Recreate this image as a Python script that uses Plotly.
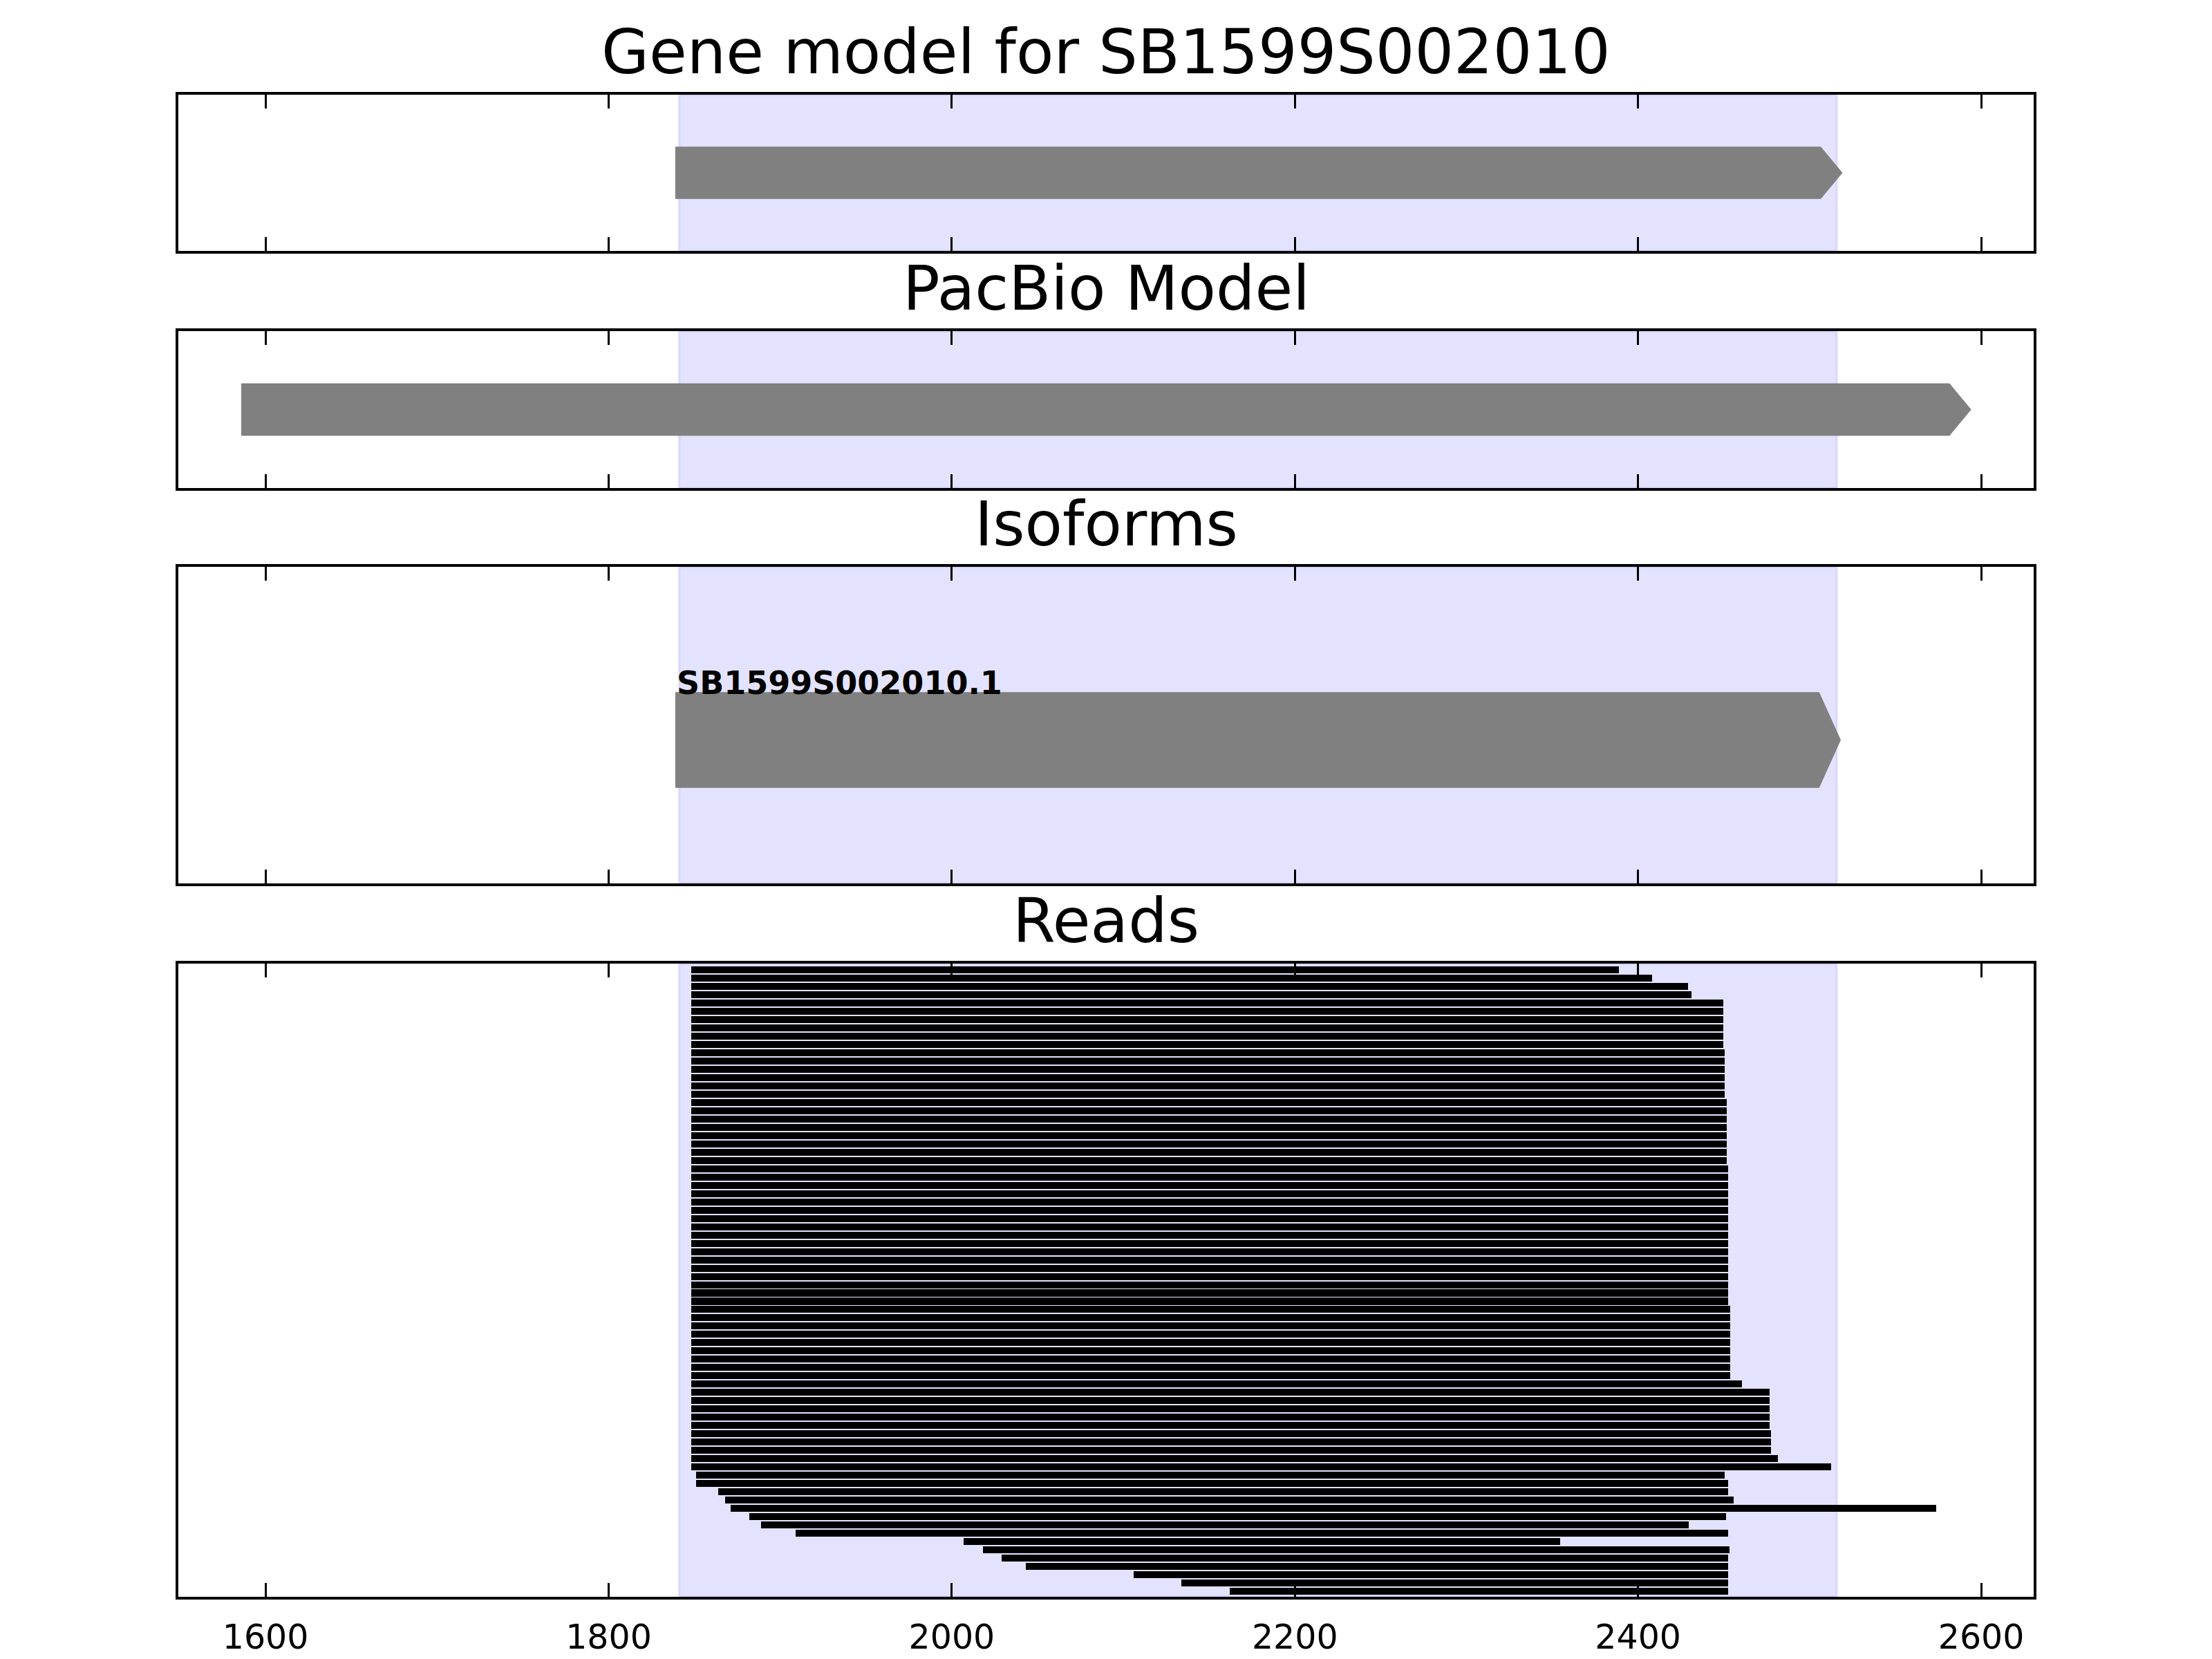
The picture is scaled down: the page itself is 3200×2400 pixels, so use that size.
import plotly.graph_objects as go

# ---------------- data ----------------
panel_titles = ["Gene model for SB1599S002010", "PacBio Model", "Isoforms", "Reads"]
isoform_label = "SB1599S002010.1"

shade_region = [1841, 2516]          # highlighted gene region
gene_model = [1839, 2519]            # start, arrow tip
pacbio_model = [1586, 2594]
isoform_model = [1839, 2518]
arrow_head = 12.5                    # head length (bp)

x_ticks = [1600, 1800, 2000, 2200, 2400, 2600]
x_tick_labels = ["1600", "1800", "2000", "2200", "2400", "2600"]

read_starts = [
    1848, 1848, 1848, 1848, 1848, 1848, 1848, 1848, 1848, 1848,
    1848, 1848, 1848, 1848, 1848, 1848, 1848, 1848, 1848, 1848,
    1848, 1848, 1848, 1848, 1848, 1848, 1848, 1848, 1848, 1848,
    1848, 1848, 1848, 1848, 1848, 1848, 1848, 1848, 1848, 1848,
    1848, 1848, 1848, 1848, 1848, 1848, 1848, 1848, 1848, 1848,
    1848, 1848, 1848, 1848, 1848, 1848, 1848, 1848, 1848, 1848,
    1848, 1851, 1851, 1864, 1868, 1871, 1882, 1889, 1909, 2007,
    2018, 2029, 2043, 2106, 2134, 2162,
]
read_ends = [
    2389, 2408, 2429, 2431, 2449.5, 2449.5, 2449.5, 2449.5, 2449.5, 2449.5,
    2450.3, 2450.3, 2450.3, 2450.3, 2450.3, 2450.3, 2451.6, 2451.6, 2451.6, 2451.6,
    2451.6, 2451.6, 2451.6, 2451.6, 2452.4, 2452.4, 2452.4, 2452.4, 2452.4, 2452.4,
    2452.4, 2452.4, 2452.4, 2452.4, 2452.4, 2452.4, 2452.4, 2452.4, 2452.4, 2452.4,
    2452.4, 2453.6, 2453.6, 2453.6, 2453.6, 2453.6, 2453.6, 2453.6, 2453.6, 2453.6,
    2460.5, 2476.6, 2476.6, 2476.6, 2476.6, 2476.6, 2477.4, 2477.4, 2477.4, 2481.4,
    2512.4, 2450.4, 2452.4, 2452.4, 2455.6, 2573.6, 2451.3, 2429.4, 2452.4, 2354.5,
    2453.5, 2452.4, 2452.4, 2452.4, 2452.4, 2452.4,
]

# ---------------- layout constants ----------------
W, H = 3200, 2400
OFF = 8                      # page body margin in the browser
# plot area in page pixels (inner edges of the frame)
LEFT, RIGHT, TOP, BOTTOM = 258, 2942, 137, 2310
ML, MR = LEFT - OFF, W - (RIGHT - OFF)
MT, MB = TOP - OFF, H - (BOTTOM - OFF)
plot_h = BOTTOM - TOP
XRANGE = [1549.2, 2630.6]
# panel (top_px, bottom_px) in page pixels
panels_px = [(137, 363), (479, 706), (820, 1278), (1394, 2310)]


def frac(px):
    return (BOTTOM - px) / plot_h


FONT = "DejaVu Sans"
GREY = "#808080"

fig = go.Figure()


def arrow_trace(start, tip, y0, y1, xa, ya):
    body_end = tip - arrow_head
    ym = (y0 + y1) / 2
    xs = [start, body_end, tip, body_end, start, start]
    ys = [y0, y0, ym, y1, y1, y0]
    return go.Scatter(x=xs, y=ys, mode="lines", fill="toself", fillcolor=GREY,
                      line=dict(color=GREY, width=1), xaxis=xa, yaxis=ya,
                      hoverinfo="skip", showlegend=False)


fig.add_trace(arrow_trace(gene_model[0], gene_model[1], 0.335, 0.665, "x", "y"))
fig.add_trace(arrow_trace(pacbio_model[0], pacbio_model[1], 0.335, 0.665, "x2", "y2"))
fig.add_trace(arrow_trace(isoform_model[0], isoform_model[1], 0.303, 0.603, "x3", "y3"))

rows = list(range(len(read_starts)))
lengths = [e - s for s, e in zip(read_starts, read_ends)]
fig.add_trace(go.Bar(orientation="h", y=rows, x=lengths, base=read_starts,
                     width=0.84, marker=dict(color="black", line=dict(width=0)),
                     xaxis="x4", yaxis="y4", showlegend=False, hoverinfo="skip"))

axis_common = dict(showgrid=False, zeroline=False, showline=True, linecolor="black",
                   linewidth=4, mirror="ticks", automargin=False)
layout = dict(width=W, height=H, margin=dict(l=ML, r=MR, t=MT, b=MB),
              plot_bgcolor="white", paper_bgcolor="white", showlegend=False,
              bargap=0, font=dict(family=FONT, color="black"))

yranges = [[0, 1], [0, 1], [0, 1], [75.69, -0.78]]
shapes = []
annotations = []
for i, (top, bot) in enumerate(panels_px):
    k = "" if i == 0 else str(i + 1)
    layout["xaxis" + k] = dict(axis_common, range=XRANGE, anchor="y" + k,
                               domain=[0, 1], tickmode="array", tickvals=x_ticks,
                               ticktext=x_tick_labels, ticks="inside", ticklen=20,
                               tickwidth=2.5, tickcolor="black",
                               showticklabels=(i == 3), ticklabelstandoff=12,
                               tickfont=dict(family=FONT, size=49, color="black"))
    layout["yaxis" + k] = dict(showgrid=False, zeroline=False, showline=True,
                               linecolor="black", linewidth=4, mirror=True,
                               automargin=False,
                               ticks="", showticklabels=False, range=yranges[i],
                               anchor="x" + k, domain=[frac(bot), frac(top)])
    shapes.append(dict(type="rect", xref="x" + k, yref="y" + k + " domain",
                       x0=shade_region[0], x1=shade_region[1], y0=0, y1=1,
                       fillcolor="rgba(0,0,255,0.11)",
                       line=dict(color="rgba(0,0,255,0.07)", width=4),
                       layer="below"))
    annotations.append(dict(text=panel_titles[i], xref="paper", yref="paper",
                            x=0.5, y=frac(top - 2), xanchor="center",
                            yanchor="bottom", yshift=6, showarrow=False,
                            font=dict(family=FONT, size=89, color="black")))

annotations.append(dict(text="<b>" + isoform_label + "</b>", xref="x3", yref="y3",
                        x=isoform_model[0], y=0.603, xanchor="left",
                        yanchor="bottom", yshift=-15, showarrow=False,
                        font=dict(family=FONT, size=46, color="black")))

layout["shapes"] = shapes
layout["annotations"] = annotations
fig.update_layout(**layout)
fig.write_html("out.html")
